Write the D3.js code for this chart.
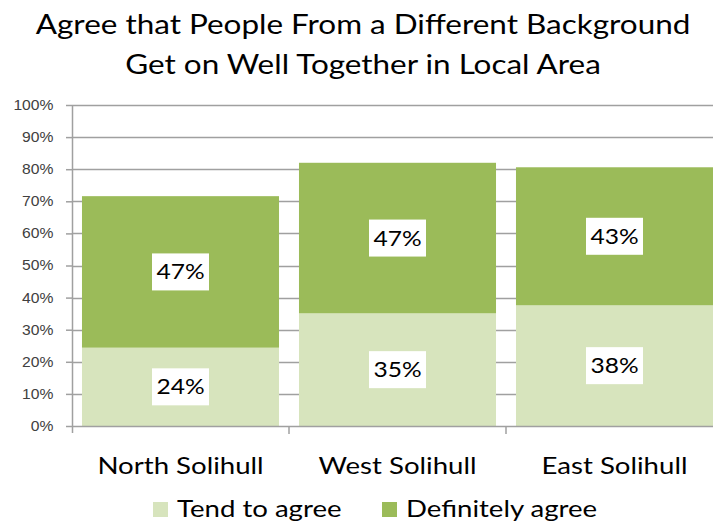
<!DOCTYPE html>
<html>
<head>
<meta charset="utf-8">
<script src="https://cdn.jsdelivr.net/npm/d3@7"></script>
<style>
  html, body { margin: 0; padding: 0; background: #fff; }
  svg { display: block; }
</style>
</head>
<body>
<svg id="chart" width="713" height="525"></svg>
<script>
// Share of residents who agree people from different backgrounds get on well together
const areas = ["North Solihull", "West Solihull", "East Solihull"];
const tendToAgree = [0.244, 0.351, 0.376];
const definitelyAgree = [0.472, 0.469, 0.430];
const seriesNames = ["Tend to agree", "Definitely agree"];
const seriesColors = ["#d7e4bd", "#9bbb59"];
const yTicks = [0, 0.1, 0.2, 0.3, 0.4, 0.5, 0.6, 0.7, 0.8, 0.9, 1.0];
const titleLines = ["Agree that People From a Different Background", "Get on Well Together in Local Area"];

const svg = d3.select("#chart");
const W = 713, H = 525;
const plot = { left: 72, right: 723, top: 105, bottom: 426 };
const labelFont = "Lato, 'Open Sans', sans-serif";

// Text is drawn slightly widened horizontally
function wideText(sel, x, y, sx) {
  return sel.attr("x", 0).attr("y", 0)
    .attr("transform", (d, i) => `translate(${typeof x === "function" ? x(d, i) : x},${typeof y === "function" ? y(d, i) : y}) scale(${sx},1)`);
}

const rows = areas.map((a, i) => ({ area: a, tend: tendToAgree[i], definitely: definitelyAgree[i] }));
const stacked = d3.stack().keys(["tend", "definitely"])(rows);

const x = d3.scaleBand().domain(areas).range([plot.left, plot.right])
  .paddingInner(0.092).paddingOuter(0.046);
const y = d3.scaleLinear().domain([0, 1]).range([plot.bottom, plot.top]);

// Title
wideText(svg.append("g").selectAll("text").data(titleLines).join("text"), 363, (d, i) => 33.5 + i * 40.5, 1.21)
  .attr("text-anchor", "middle")
  .attr("font-family", labelFont).attr("font-size", 26).attr("fill", "#000")
  .text(d => d);

// Horizontal gridlines
svg.append("g").selectAll("line").data(yTicks.slice(1)).join("line")
  .attr("x1", plot.left).attr("x2", W)
  .attr("y1", d => Math.round(y(d)) + 0.5).attr("y2", d => Math.round(y(d)) + 0.5)
  .attr("stroke", "#a0a0a0").attr("stroke-width", 1.5);

// Stacked bars
svg.append("g").selectAll("g").data(stacked).join("g")
  .attr("fill", (d, i) => seriesColors[i])
  .selectAll("rect").data(d => d).join("rect")
  .attr("x", d => x(d.data.area))
  .attr("width", x.bandwidth())
  .attr("y", d => y(d[1]))
  .attr("height", d => y(d[0]) - y(d[1]));

// Y axis
const yAxis = d3.axisLeft(y).tickValues(yTicks).tickFormat(d3.format(".0%")).tickSize(6);
const gy = svg.append("g").attr("transform", `translate(${plot.left},0)`).call(yAxis);
gy.select(".domain").remove();
gy.selectAll(".tick line").attr("stroke", "#a0a0a0").attr("stroke-width", 1.5);
gy.selectAll(".tick text")
  .attr("x", 0).attr("transform", "translate(-18.5,0) scale(1.12,1)")
  .attr("font-family", "'Liberation Sans', Arial, sans-serif")
  .attr("font-size", 14).attr("fill", "#404040");
svg.append("line").attr("x1", plot.left + 0.5).attr("x2", plot.left + 0.5)
  .attr("y1", plot.top).attr("y2", plot.bottom + 7)
  .attr("stroke", "#a0a0a0").attr("stroke-width", 1.5);

// X axis baseline with category separator ticks
svg.append("line").attr("x1", plot.left).attr("x2", W)
  .attr("y1", plot.bottom + 0.5).attr("y2", plot.bottom + 0.5)
  .attr("stroke", "#a0a0a0").attr("stroke-width", 1.5);
const step = x.step();
svg.append("g").selectAll("line").data(areas.slice(1)).join("line")
  .attr("x1", d => x(d) - step * x.paddingInner() / 2)
  .attr("x2", d => x(d) - step * x.paddingInner() / 2)
  .attr("y1", plot.bottom).attr("y2", plot.bottom + 8)
  .attr("stroke", "#a0a0a0").attr("stroke-width", 1.5);

// Category labels
wideText(svg.append("g").selectAll("text").data(areas).join("text"), d => x(d) + x.bandwidth() / 2, 473.5, 1.2)
  .attr("text-anchor", "middle")
  .attr("font-family", labelFont).attr("font-size", 23).attr("fill", "#000")
  .text(d => d);

// Value labels in white boxes
const fmt = d3.format(".0%");
const labels = svg.append("g");
stacked.forEach(series => {
  series.forEach(d => {
    const cx = x(d.data.area) + x.bandwidth() / 2;
    const cy = (y(d[0]) + y(d[1])) / 2;
    const g = labels.append("g").attr("transform", `translate(${cx},${cy})`);
    g.append("rect").attr("x", -28.5).attr("y", -18.5).attr("width", 57).attr("height", 37).attr("fill", "#fff");
    g.append("text").attr("text-anchor", "middle").attr("dy", "0.36em")
      .attr("transform", "scale(1.17,1)")
      .attr("font-family", labelFont).attr("font-size", 21).attr("fill", "#000")
      .text(fmt(d[1] - d[0]));
  });
});

// Legend
const legendItems = [
  { name: seriesNames[0], color: seriesColors[0], x: 153 },
  { name: seriesNames[1], color: seriesColors[1], x: 382 }
];
const lg = svg.append("g").selectAll("g").data(legendItems).join("g")
  .attr("transform", d => `translate(${d.x},0)`);
lg.append("rect").attr("x", 0).attr("y", 502).attr("width", 15).attr("height", 15).attr("fill", d => d.color);
wideText(lg.append("text"), 24, 517, 1.2)
  .attr("font-family", labelFont).attr("font-size", 23).attr("fill", "#000")
  .text(d => d.name);
</script>
</body>
</html>
